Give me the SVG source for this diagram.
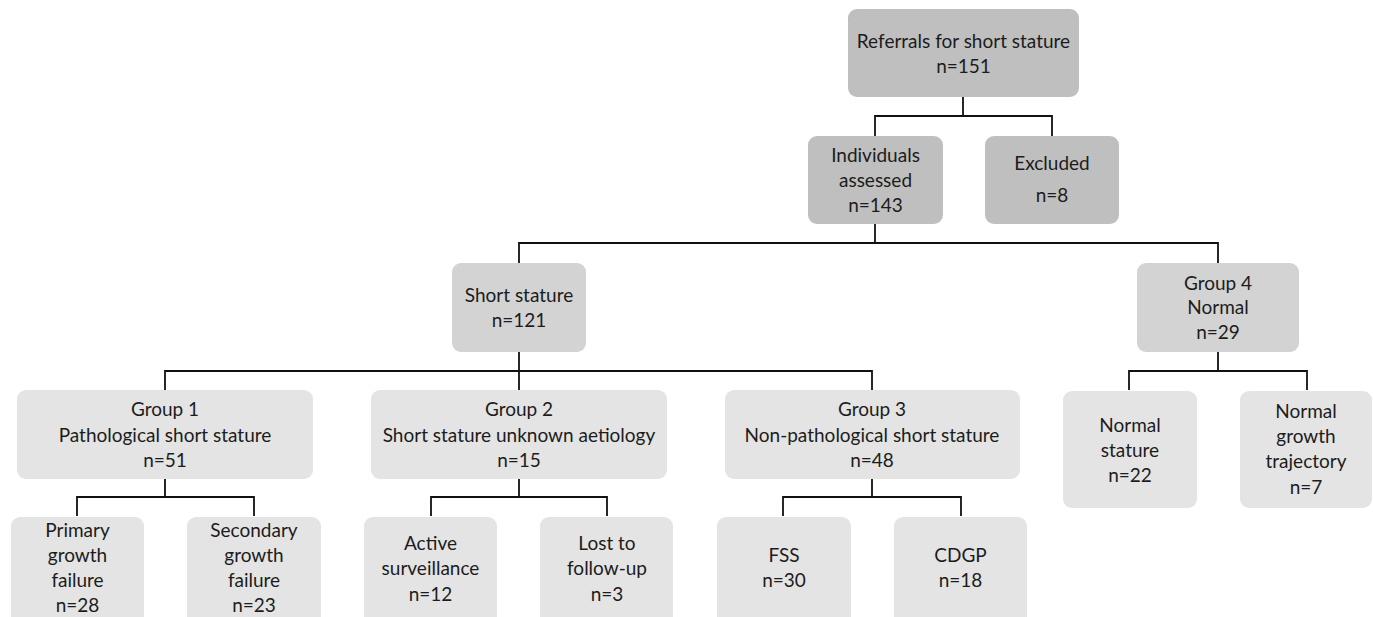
<svg xmlns="http://www.w3.org/2000/svg" width="1373" height="617" viewBox="0 0 1373 617">
<style>
  text { font-family: Lato, "Open Sans", "Liberation Sans", sans-serif; font-size: 19px; fill: #1c1c1c; text-anchor: middle; }
  .l1 { fill: #bfbfbf; }
  .l2 { fill: #d3d3d3; }
  .l3 { fill: #e4e4e4; }
  .conn path { fill: none; stroke: #111; stroke-width: 1.8; }
</style>
<rect width="1373" height="617" fill="#ffffff"/>
<g class="conn" id="connectors">
  <path d="M963 97 V116 M875 136 V116 H1052 V136"/>
  <path d="M875 224 V243 M519 263 V243 H1218 V263"/>
  <path d="M519 352 V390 M165 390 V371 H872 V390"/>
  <path d="M1218 352 V371 M1129 390 V371 H1307 V390"/>
  <path d="M165 479 V497 M77 516 V497 H254 V516"/>
  <path d="M519 479 V497 M431 516 V497 H607 V516"/>
  <path d="M872 479 V497 M783 516 V497 H961 V516"/>
</g>
<g id="referrals">
  <rect class="l1" x="848" y="9" width="231" height="88" rx="9"/>
  <text x="963.5" y="48">Referrals for short stature</text>
  <text x="963.5" y="73">n=151</text>
</g>
<g id="assessed">
  <rect class="l1" x="808" y="136" width="135" height="88" rx="9"/>
  <text x="875.5" y="162">Individuals</text>
  <text x="875.5" y="187">assessed</text>
  <text x="875.5" y="212">n=143</text>
</g>
<g id="excluded">
  <rect class="l1" x="985" y="136" width="134" height="88" rx="9"/>
  <text x="1052" y="170">Excluded</text>
  <text x="1052" y="202">n=8</text>
</g>
<g id="short-stature">
  <rect class="l2" x="452" y="263" width="134" height="89" rx="9"/>
  <text x="519" y="302">Short stature</text>
  <text x="519" y="327">n=121</text>
</g>
<g id="group4">
  <rect class="l2" x="1137" y="263" width="162" height="89" rx="9"/>
  <text x="1218" y="290">Group 4</text>
  <text x="1218" y="314">Normal</text>
  <text x="1218" y="339">n=29</text>
</g>
<g id="group1">
  <rect class="l3" x="17" y="390" width="296" height="89" rx="9"/>
  <text x="165" y="416">Group 1</text>
  <text x="165" y="442">Pathological short stature</text>
  <text x="165" y="467">n=51</text>
</g>
<g id="group2">
  <rect class="l3" x="371" y="390" width="296" height="89" rx="9"/>
  <text x="519" y="416">Group 2</text>
  <text x="519" y="442">Short stature unknown aetiology</text>
  <text x="519" y="467">n=15</text>
</g>
<g id="group3">
  <rect class="l3" x="725" y="390" width="295" height="89" rx="9"/>
  <text x="872" y="416">Group 3</text>
  <text x="872" y="442">Non-pathological short stature</text>
  <text x="872" y="467">n=48</text>
</g>
<g id="normal-stature">
  <rect class="l3" x="1063" y="391" width="134" height="117" rx="9"/>
  <text x="1130" y="432">Normal</text>
  <text x="1130" y="457">stature</text>
  <text x="1130" y="482">n=22</text>
</g>
<g id="normal-trajectory">
  <rect class="l3" x="1240" y="391" width="132" height="117" rx="9"/>
  <text x="1306" y="418">Normal</text>
  <text x="1306" y="443">growth</text>
  <text x="1306" y="468">trajectory</text>
  <text x="1306" y="494">n=7</text>
</g>
<g id="primary">
  <rect class="l3" x="11" y="517" width="133" height="115" rx="9"/>
  <text x="77.5" y="537">Primary</text>
  <text x="77.5" y="562">growth</text>
  <text x="77.5" y="587">failure</text>
  <text x="77.5" y="612">n=28</text>
</g>
<g id="secondary">
  <rect class="l3" x="187" y="517" width="134" height="115" rx="9"/>
  <text x="254" y="537">Secondary</text>
  <text x="254" y="562">growth</text>
  <text x="254" y="587">failure</text>
  <text x="254" y="612">n=23</text>
</g>
<g id="active">
  <rect class="l3" x="364" y="517" width="133" height="115" rx="9"/>
  <text x="430.5" y="550">Active</text>
  <text x="430.5" y="575">surveillance</text>
  <text x="430.5" y="601">n=12</text>
</g>
<g id="lost">
  <rect class="l3" x="540" y="517" width="133" height="115" rx="9"/>
  <text x="607" y="550">Lost to</text>
  <text x="607" y="575">follow-up</text>
  <text x="607" y="601">n=3</text>
</g>
<g id="fss">
  <rect class="l3" x="717" y="517" width="134" height="115" rx="9"/>
  <text x="784" y="562">FSS</text>
  <text x="784" y="587">n=30</text>
</g>
<g id="cdgp">
  <rect class="l3" x="894" y="517" width="133" height="115" rx="9"/>
  <text x="960.5" y="562">CDGP</text>
  <text x="960.5" y="587">n=18</text>
</g>
</svg>
